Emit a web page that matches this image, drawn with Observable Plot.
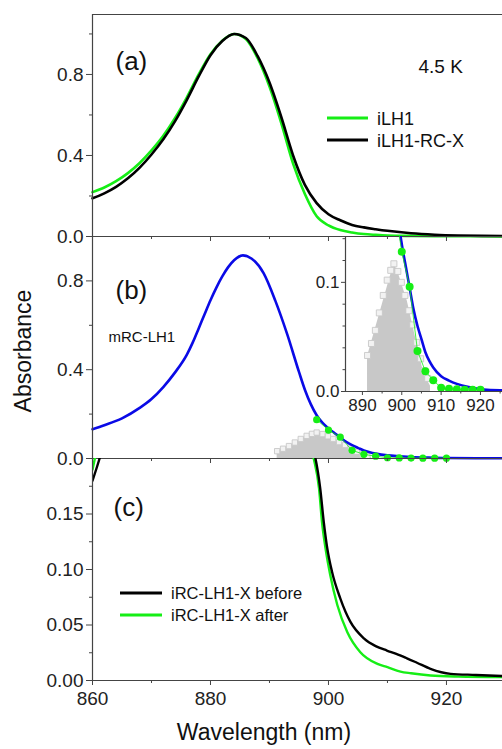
<!DOCTYPE html>
<html><head><meta charset="utf-8">
<script src="https://cdn.jsdelivr.net/npm/d3@7"></script>
<script src="https://cdn.jsdelivr.net/npm/@observablehq/plot@0.6"></script>
<style>
body{margin:0;background:#fff;}
#wrap{position:relative;width:502px;height:749px;overflow:hidden;font-family:"Liberation Sans",Arial,sans-serif;background:#fff;}
</style></head><body><div id="wrap"></div>
<script>
// ---------- data ----------
// panel (a)
const wlA      = [860,862,864,866,868,870,872,874,876,878,880,882,884,886,888,890,892,894,896,898,900,902,904,906,908,910,914,918,922,926,930];
const iLH1     = [.219,.242,.273,.313,.363,.425,.497,.585,.687,.80,.90,.967,1.0,.975,.88,.74,.56,.36,.21,.10,.055,.032,.02,.012,.008,.005,.003,.002,.001,.001,0];
const iLH1RCX  = [.189,.213,.245,.287,.34,.405,.48,.57,.675,.79,.895,.965,1.0,.98,.89,.76,.59,.40,.255,.165,.11,.08,.057,.045,.036,.028,.016,.009,.005,.003,.002];
// panel (b)
const wlB      = [860,862,865,868,870,872,874,876,877,878,879,880,881,882,883,884,885.5,887,889,891,893,895,896,897,898,899,900,901,902,903,904,905,906,907,908,910,912,914,917,920,925,929.5];
const mRCLH1   = [.132,.15,.181,.228,.268,.322,.388,.468,.523,.586,.65,.713,.77,.82,.862,.893,.915,.9,.835,.71,.56,.39,.31,.245,.195,.16,.135,.115,.095,.075,.06,.048,.036,.028,.022,.014,.010,.007,.004,.002,.001,.001];
const dotWl    = [898,900,902,904,906,908,910,912,914,916,918,920];
const dotAbs   = [.175,.128,.096,.037,.0186,.0103,.0034,.0025,.002,.0015,.0015,.0015];
const sqWl     = [891.3,892.3,893.3,894.3,895.3,896.3,897.2,898,899,899.9,900.8,901.8,902.8,903.8,904.8,905.7,906.6];
const sqAbs    = [.033,.044,.056,.072,.088,.102,.111,.117,.110,.100,.088,.074,.061,.045,.030,.019,.012];
const fillWl   = [891.3,898,899,901.4,903.9,905.6,907.3];
const fillAbs  = [.032,.117,.110,.083,.043,.016,.005];
// panel (c)
const wlBefore  = [860,861.2,862,897,897.8,898.6,899.2,899.8,900.6,902,903.7,906,908,909.9,911.5,913.3,915,917.3,920.7,925,929.5];
const absBefore = [.18,.2,.215,.215,.2,.173,.143,.119,.098,.074,.053,.038,.031,.027,.024,.020,.016,.0105,.006,.005,.004];
const wlAfter   = [860,860.4,861,896.8,897.5,898.4,898.9,899.5,900.3,901.5,903.2,905.4,908.3,910,912.2,914,917.3,922,929.5];
const absAfter  = [.19,.2,.215,.215,.2,.173,.143,.119,.095,.068,.0435,.0255,.015,.012,.008,.0065,.0045,.0035,.003];
// ticks
const xMajor = [860,880,900,920], xMinor = [870,890,910];
const yMajorA = [0,0.4,0.8], yMinorA = [0.2,0.6,1.0];
const yMajorB = [0,0.4,0.8], yMinorB = [0.2,0.6];
const yMajorC = [0,0.05,0.10,0.15], yMinorC = [0.025,0.075,0.125,0.175];
const inXMajor = [890,900,910,920], inXMinor = [895,905,915,925];
const inYMajor = [0,0.1], inYMinor = [0.02,0.04,0.06,0.08,0.12,0.14];

const GREEN = "#16ee16", BLUE = "#0a0ae6", AX = "#444";
const FONT = "'Liberation Sans', Arial, sans-serif";
const wrap = document.getElementById("wrap");
function place(svg, top) {
  svg.style.position = "absolute"; svg.style.left = "0px"; svg.style.top = top + "px";
  svg.style.background = "transparent"; svg.style.overflow = "visible"; svg.style.color = "#222";
  svg.style.fontFamily = FONT; svg.style.maxWidth = "none";
  wrap.appendChild(svg);
}
const XD = [860, 929.5];
function xTicks(labels) {
  return [
    Plot.axisX({anchor: "bottom", ticks: xMajor, tickSize: 5, tickPadding: 6, fontSize: 19, label: null,
      tickFormat: labels ? d3.format("d") : () => "", stroke: AX}),
    Plot.axisX({anchor: "bottom", ticks: xMinor, tickSize: 3, label: null, tickFormat: () => "", stroke: AX})
  ];
}
function yTicks(major, minor, fmt) {
  return [
    Plot.axisY({anchor: "left", ticks: major, tickSize: 6, tickPadding: 3, fontSize: 19, label: null, tickFormat: d3.format(fmt), stroke: AX}),
    Plot.axisY({anchor: "left", ticks: minor, tickSize: 3, label: null, tickFormat: () => "", stroke: AX})
  ];
}
const lineOf = (xs, ys, o) => Plot.line(xs, {x: d => d, y: (d, i) => ys[i], curve: "monotone-x", ...o});

// ---------- panel (a) ----------
const pa = Plot.plot({
  width: 502, height: 248, marginLeft: 92, marginRight: 0, marginTop: 14, marginBottom: 12,
  x: {domain: XD, axis: null}, y: {domain: [0, 1.096], axis: null},
  marks: [
    lineOf(wlA, iLH1, {stroke: GREEN, strokeWidth: 2.6}),
    lineOf(wlA, iLH1RCX, {stroke: "#000", strokeWidth: 2.6}),
    Plot.ruleY([1.096], {stroke: AX, strokeWidth: 1.2}),
    Plot.ruleY([0], {stroke: AX, strokeWidth: 1.2}),
    Plot.ruleX([860], {stroke: AX, strokeWidth: 1.2}),
    ...yTicks(yMajorA, yMinorA, ".1f"),
    ...xTicks(false),
    Plot.text(["(a)"], {frameAnchor: "top-left", dx: 23, dy: 37, fontSize: 26, textAnchor: "start", fill: "#111"}),
    Plot.text(["4.5 K"], {frameAnchor: "top-left", dx: 326, dy: 45, fontSize: 19, textAnchor: "start", fill: "#111"})
  ]
});
place(pa, 0);

// ---------- panel (b) ----------
const pb = Plot.plot({
  width: 502, height: 244, marginLeft: 92, marginRight: 0, marginTop: 10, marginBottom: 12,
  x: {domain: XD, axis: null}, y: {domain: [0, 1.0], axis: null},
  marks: [
    Plot.areaY(fillWl, {x: d => d, y: (d, i) => fillAbs[i], fill: "#c8c8c8"}),
    Plot.dot(sqWl, {x: d => d, y: (d, i) => sqAbs[i], symbol: "square", r: 3, stroke: "#c8c8c8", fill: "#f2f2f2", strokeWidth: 0.9}),
    lineOf(wlB, mRCLH1, {stroke: BLUE, strokeWidth: 2.6}),
    Plot.line(dotWl, {x: d => d, y: (d, i) => dotAbs[i], stroke: GREEN, strokeWidth: 0.8}),
    Plot.dot(dotWl, {x: d => d, y: (d, i) => dotAbs[i], r: 3.6, fill: GREEN}),
    Plot.ruleY([0], {stroke: AX, strokeWidth: 1.2}),
    Plot.ruleX([860], {stroke: AX, strokeWidth: 1.2}),
    ...yTicks(yMajorB, yMinorB, ".1f"),
    ...xTicks(false),
    Plot.text(["(b)"], {frameAnchor: "top-left", dx: 23, dy: 44, fontSize: 26, textAnchor: "start", fill: "#111"}),
    Plot.text(["mRC-LH1"], {frameAnchor: "top-left", dx: 16, dy: 95, fontSize: 15, textAnchor: "start", fill: "#111"})
  ]
});
place(pb, 226);

// ---------- inset ----------
const pi = Plot.plot({
  width: 502, height: 195, marginLeft: 345, marginRight: 0, marginTop: 10, marginBottom: 30,
  x: {domain: [885.7, 925.6], axis: null}, y: {domain: [0, 0.142], axis: null},
  marks: [
    Plot.areaY(fillWl, {x: d => d, y: (d, i) => fillAbs[i], fill: "#c8c8c8", clip: true}),
    Plot.dot(sqWl, {x: d => d, y: (d, i) => sqAbs[i], symbol: "square", r: 3.4, stroke: "#c8c8c8", fill: "#f2f2f2", strokeWidth: 0.9, clip: true}),
    lineOf(wlB, mRCLH1, {stroke: BLUE, strokeWidth: 2.6, clip: true}),
    Plot.line(dotWl, {x: d => d, y: (d, i) => dotAbs[i], stroke: GREEN, strokeWidth: 0.8, clip: true}),
    Plot.dot(dotWl, {x: d => d, y: (d, i) => dotAbs[i], r: 4, fill: GREEN, clip: true}),
    Plot.ruleY([0], {stroke: AX, strokeWidth: 1.2}),
    Plot.ruleX([885.7], {stroke: AX, strokeWidth: 1.2}),
    Plot.axisY({anchor: "left", ticks: inYMajor, tickSize: 4, tickPadding: 2, fontSize: 17, label: null, tickFormat: d3.format(".1f"), stroke: AX}),
    Plot.axisY({anchor: "left", ticks: inYMinor, tickSize: 2.5, label: null, tickFormat: () => "", stroke: AX}),
    Plot.axisX({anchor: "bottom", ticks: inXMajor, tickSize: 4, tickPadding: 3, fontSize: 17, label: null, tickFormat: d3.format("d"), stroke: AX}),
    Plot.axisX({anchor: "bottom", ticks: inXMinor, tickSize: 2.5, label: null, tickFormat: () => "", stroke: AX})
  ]
});
place(pi, 226);

// ---------- panel (c) ----------
const pc = Plot.plot({
  width: 502, height: 262, marginLeft: 92, marginRight: 0, marginTop: 10, marginBottom: 30,
  x: {domain: XD, axis: null}, y: {domain: [0, 0.2], axis: null},
  marks: [
    Plot.line(wlAfter, {x: d => d, y: (d, i) => absAfter[i], stroke: GREEN, strokeWidth: 2.4, curve: "monotone-x", clip: true}),
    Plot.line(wlBefore, {x: d => d, y: (d, i) => absBefore[i], stroke: "#000", strokeWidth: 2.4, curve: "monotone-x", clip: true}),
    Plot.ruleY([0], {stroke: AX, strokeWidth: 1.2}),
    Plot.ruleX([860], {stroke: AX, strokeWidth: 1.2}),
    ...yTicks(yMajorC, yMinorC, ".2f"),
    ...xTicks(true),
    Plot.text(["(c)"], {frameAnchor: "top-left", dx: 21, dy: 39, fontSize: 26, textAnchor: "start", fill: "#111"})
  ]
});
place(pc, 448);

// ---------- legends & axis titles ----------
const NS = "http://www.w3.org/2000/svg";
const ov = document.createElementNS(NS, "svg");
ov.setAttribute("width", 502); ov.setAttribute("height", 749);
ov.style.position = "absolute"; ov.style.left = "0px"; ov.style.top = "0px"; ov.style.fontFamily = FONT;
const legA = [{label: "iLH1", color: GREEN}, {label: "iLH1-RC-X", color: "#000"}];
const legC = [{label: "iRC-LH1-X before", color: "#000"}, {label: "iRC-LH1-X after", color: GREEN}];
const sel = d3.select(ov);
legA.forEach((d, i) => {
  sel.append("line").attr("x1", 327).attr("x2", 368).attr("y1", 118 + 22 * i).attr("y2", 118 + 22 * i).attr("stroke", d.color).attr("stroke-width", 3);
  sel.append("text").attr("x", 377).attr("y", 124.5 + 22 * i).attr("font-size", 18).attr("fill", "#111").text(d.label);
});
legC.forEach((d, i) => {
  sel.append("line").attr("x1", 120).attr("x2", 162).attr("y1", 593 + 22 * i).attr("y2", 593 + 22 * i).attr("stroke", d.color).attr("stroke-width", 3);
  sel.append("text").attr("x", 171).attr("y", 599 + 22 * i).attr("font-size", 16.5).attr("fill", "#111").text(d.label);
});
sel.append("text").attr("transform", "translate(31,351) rotate(-90)").attr("text-anchor", "middle").attr("font-size", 23).attr("fill", "#111").text("Absorbance");
sel.append("text").attr("x", 264).attr("y", 740).attr("text-anchor", "middle").attr("font-size", 23).attr("fill", "#111").text("Wavelength (nm)");
wrap.appendChild(ov);
</script>
</body></html>
